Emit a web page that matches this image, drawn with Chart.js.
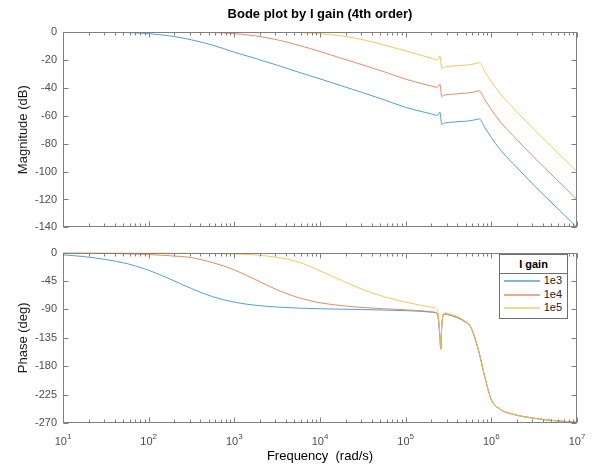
<!DOCTYPE html>
<html>
<head>
<meta charset="utf-8">
<title>Bode plot by I gain (4th order)</title>
<script src="https://cdn.jsdelivr.net/npm/chart.js@4.4.1/dist/chart.umd.min.js"></script>
<style>
    body { margin: 0; background: #fff; }
    #page { position: relative; width: 593px; height: 466px; overflow: hidden; font-family: "Liberation Sans", Arial, Helvetica, sans-serif; }
    #mag { position: absolute; left: 0; top: 0; }
    #phase { position: absolute; left: 0; top: 240px; }
    #legend { position: absolute; left: 499px; top: 254px; width: 69px; height: 65px; box-sizing: border-box; border: 1px solid #6e6e6e; background: #fff; }
    .lg-title { height: 18px; line-height: 18px; text-align: center; font-weight: bold; font-size: 11px; color: #000; border-bottom: 1px solid #6e6e6e; }
    .lg-row { position: relative; height: 13.5px; }
    .lg-line { position: absolute; left: 4px; top: 6px; width: 36px; height: 2px; opacity: 0.5; }
    .lg-text { position: absolute; right: 5px; top: 0; line-height: 13.5px; font-size: 11px; color: #222; }
</style>
</head>
<body>
<div id="page">
    <canvas id="mag" width="593" height="240"></canvas>
    <canvas id="phase" width="593" height="226"></canvas>
    <div id="legend"><div class="lg-title">I gain</div></div>
</div>
<script>
// 頻率 (rad/s)
const freqs = [10, 17.8, 31.6, 56.2, 100, 178, 316, 562, 1000, 1778, 3162, 5623,
    10000, 17783, 31623, 56234, 100000, 158489, 199526, 229087, 239883, 251189,
    257040, 263027, 275423, 295121, 316228, 398107, 501187, 562341, 630957,
    724436, 831764, 1000000, 1258925, 1778279, 3162278, 5623413, 10000000];

// 圖例名稱與顏色
const seriesNames = ['1e3', '1e4', '1e5'];
const seriesColors = ['#0072BD', '#D95319', '#EDB120'];
const lineColors = ['#4095ce', '#e37e53', '#f1c14d'];

// 增益 (dB)
const magBlue = [0, 0, -0.1, -0.4, -1.2, -2.8, -5.6, -9.5, -14.5, -19, -23.8, -28.8,
    -33.6, -38.5, -43.5, -48.6, -54, -57.2, -58.7, -59.7, -59.2, -57.4,
    -61.5, -66.3, -65.5, -65.0, -64.8, -64.3, -63.9, -63.6, -63,
    -62.3, -68, -75.6, -84, -94, -110, -125, -140];
const magRed = [0, 0, 0, 0, 0, 0, -0.1, -0.4, -1.2, -2.8, -5.6, -9.5,
    -14, -18.8, -23.6, -28.5, -33.8, -37.2, -38.7, -39.6, -39.1, -37.3,
    -41.5, -46.3, -45.5, -45.0, -44.8, -44.3, -43.8, -43.5, -43,
    -42.2, -48, -55.6, -64, -74, -90, -105, -120];
const magYellow = [0, 0, 0, 0, 0, 0, 0, 0, 0, 0, -0.1, -0.4,
    -1.2, -2.8, -5.5, -9.3, -13.5, -17, -18.7, -19.8, -19.3, -17,
    -21.5, -26.1, -25.4, -24.9, -24.7, -24.2, -23.7, -23.4, -22.8,
    -22, -28, -35.6, -44, -54, -70, -85, -100];

// 相位 (deg)
const phaseBlue = [-3.6, -6.4, -11, -17.5, -28, -42, -57, -70, -78.5, -83.5, -86.3, -88,
    -89, -89.7, -90.3, -91, -92, -93.2, -94.5, -96, -103, -135,
    -153, -120, -99, -97.5, -98.5, -103, -110, -115.5, -132,
    -160, -195, -233, -248, -256, -262.5, -266.5, -269];
const phaseRed = [-0.4, -0.6, -1.1, -2, -3, -5, -8, -16, -27.5, -43, -59, -71.5,
    -79.5, -84, -87, -89, -90.8, -92.3, -93.8, -95.5, -102.5, -135,
    -153, -120, -98.5, -97.3, -98.3, -102.8, -110, -115.5, -132,
    -160, -195, -233, -248, -256, -262.5, -266.5, -269];
const phaseYellow = [0, -0.1, -0.1, -0.2, -0.4, -0.6, -1, -1.5, -2.2, -3.8, -7.5, -15,
    -29, -44, -58.5, -70, -78.5, -84, -86.5, -89, -97, -133,
    -152, -118, -96.5, -95.5, -96.5, -101, -109, -115, -132,
    -160, -195, -233, -248, -256, -262.5, -266.5, -269];

// x 軸刻度 (十倍頻)
const decadeTicks = [1e1, 1e2, 1e3, 1e4, 1e5, 1e6, 1e7];
const decadeExp = ['1', '2', '3', '4', '5', '6', '7'];

const fontFamily = '"Liberation Sans", Arial, Helvetica, sans-serif';
const axisColor = '#7f7f7f';
const labelColor = '#4d4d4d';

// 建立資料集 (後面的線畫在上面，跟 MATLAB 一樣)
function buildDatasets(seriesList) {
    return seriesList.map((values, i) => ({
        label: seriesNames[i],
        data: freqs.map((f, k) => ({ x: f, y: values[k] })),
        borderColor: lineColors[i],
        borderWidth: 0.9,
        pointRadius: 0,
        cubicInterpolationMode: 'monotone',
        fill: false,
        order: seriesList.length - i
    }));
}

// 畫出 MATLAB 風格的外框與內側刻度
const axesBox = {
    id: 'axesBox',
    afterDraw(chart) {
        const { ctx, chartArea: a, scales } = chart;
        const x = scales.x;
        const y = scales.y;
        const left = Math.round(a.left) + 0.5;
        const right = Math.round(a.right) - 0.5;
        const top = Math.round(a.top) + 0.5;
        const bottom = Math.round(a.bottom) - 0.5;
        ctx.save();
        ctx.strokeStyle = axisColor;
        ctx.lineWidth = 1;
        ctx.strokeRect(left, top, right - left, bottom - top);

        ctx.beginPath();
        // y 刻度
        y.ticks.forEach(t => {
            const py = Math.round(y.getPixelForValue(t.value)) + 0.5;
            ctx.moveTo(left, py); ctx.lineTo(left + 5, py);
            ctx.moveTo(right, py); ctx.lineTo(right - 5, py);
        });
        // x 主刻度與次刻度
        for (let e = 1; e <= 7; e++) {
            for (let m = 1; m <= 9; m++) {
                if (e === 7 && m > 1) break;
                const px = Math.round(x.getPixelForValue(m * Math.pow(10, e))) + 0.5;
                const len = m === 1 ? 5 : 3;
                ctx.moveTo(px, top); ctx.lineTo(px, top + len);
                ctx.moveTo(px, bottom); ctx.lineTo(px, bottom - len);
            }
        }
        ctx.stroke();

        // x 軸標籤 10^n (只在相位圖)
        if (chart.canvas.id === 'phase') {
            ctx.fillStyle = labelColor;
            ctx.textBaseline = 'alphabetic';
            decadeTicks.forEach((v, i) => {
                const px = x.getPixelForValue(v);
                ctx.font = '11px ' + fontFamily;
                const w1 = ctx.measureText('10').width;
                ctx.font = '8px ' + fontFamily;
                const w2 = ctx.measureText(decadeExp[i]).width;
                const start = px - (w1 + w2) / 2;
                ctx.font = '11px ' + fontFamily;
                ctx.fillText('10', start, a.bottom + 22);
                ctx.font = '8px ' + fontFamily;
                ctx.fillText(decadeExp[i], start + w1, a.bottom + 16);
            });
        }
        ctx.restore();
    }
};

function setDecades(scale) {
    scale.ticks = decadeTicks.map(v => ({ value: v }));
}

function yAxis(min, max, step, title) {
    return {
        min: min,
        max: max,
        ticks: { stepSize: step, padding: 6, color: labelColor, font: { family: fontFamily, size: 11 } },
        grid: { display: false, drawTicks: false },
        border: { display: false },
        title: { display: true, text: title, color: '#1a1a1a', font: { family: fontFamily, size: 13 }, padding: { top: 16, bottom: 0 } },
        afterFit: s => { s.width = 63; }
    };
}

// 增益圖
new Chart(document.getElementById('mag'), {
    type: 'line',
    data: { datasets: buildDatasets([magBlue, magRed, magYellow]) },
    options: {
        responsive: false,
        animation: false,
        layout: { padding: { left: 0, right: 16, top: 0, bottom: 8 } },
        plugins: {
            legend: { display: false },
            tooltip: { enabled: false },
            title: {
                display: true,
                fullSize: false,
                text: 'Bode plot by I gain (4th order)',
                color: '#000',
                font: { family: fontFamily, size: 13, weight: 'bold' },
                padding: { top: 7, bottom: 9.4 }
            }
        },
        scales: {
            x: { type: 'logarithmic', min: 10, max: 1e7, display: false, afterBuildTicks: setDecades },
            y: yAxis(-140, 0, 20, 'Magnitude (dB)')
        }
    },
    plugins: [axesBox]
});

// 相位圖
new Chart(document.getElementById('phase'), {
    type: 'line',
    data: { datasets: buildDatasets([phaseBlue, phaseRed, phaseYellow]) },
    options: {
        responsive: false,
        animation: false,
        layout: { padding: { left: 0, right: 16, top: 9, bottom: 0 } },
        plugins: { legend: { display: false }, tooltip: { enabled: false } },
        scales: {
            x: {
                type: 'logarithmic',
                min: 10,
                max: 1e7,
                afterBuildTicks: setDecades,
                ticks: { display: false },
                grid: { display: false, drawTicks: false },
                border: { display: false },
                title: { display: true, text: 'Frequency  (rad/s)', color: '#000', font: { family: fontFamily, size: 13 }, padding: { top: 0, bottom: 2 } },
                afterFit: s => { s.height = 43; }
            },
            y: yAxis(-270, 0, 45, 'Phase (deg)')
        }
    },
    plugins: [axesBox]
});

// 圖例
const legendBox = document.getElementById('legend');
seriesNames.forEach((name, i) => {
    const row = document.createElement('div');
    row.className = 'lg-row';
    row.innerHTML = `<span class="lg-line" style="background:${seriesColors[i]}"></span><span class="lg-text">${name}</span>`;
    legendBox.appendChild(row);
});
</script>
</body>
</html>
